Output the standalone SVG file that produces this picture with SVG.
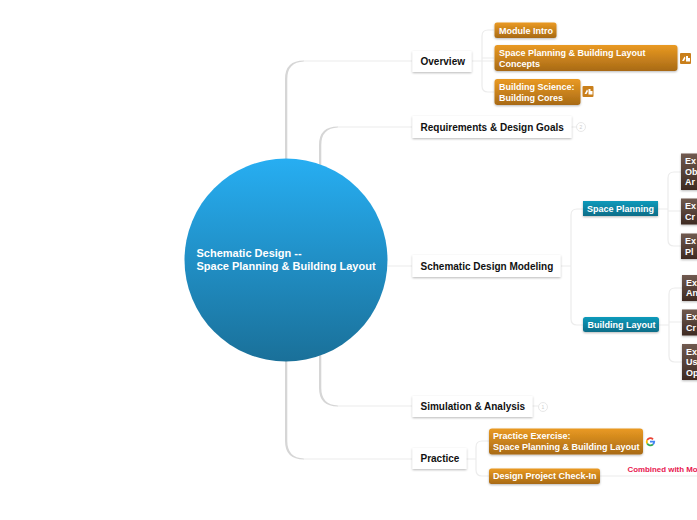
<svg xmlns="http://www.w3.org/2000/svg" width="697" height="520" viewBox="0 0 697 520">
<defs>
<linearGradient id="gc" x1="0" y1="0" x2="0" y2="1"><stop offset="0" stop-color="#27aef2"/><stop offset="1" stop-color="#1a7099"/></linearGradient>
<linearGradient id="go" x1="0" y1="0" x2="0" y2="1"><stop offset="0" stop-color="#ea9a22"/><stop offset="1" stop-color="#a86a16"/></linearGradient>
<linearGradient id="gt" x1="0" y1="0" x2="0" y2="1"><stop offset="0" stop-color="#0f9abb"/><stop offset="1" stop-color="#0f6d88"/></linearGradient>
<linearGradient id="gb" x1="0" y1="0" x2="0" y2="1"><stop offset="0" stop-color="#705a50"/><stop offset="1" stop-color="#3e2a22"/></linearGradient>
<filter id="sh" x="-20%" y="-30%" width="140%" height="170%"><feDropShadow dx="0" dy="1" stdDeviation="1.2" flood-color="#000" flood-opacity="0.28"/></filter>
</defs>
<style>
text{font-family:"Liberation Sans",Arial,sans-serif;font-weight:bold}
.w{fill:#fff;filter:url(#sh)}
.o{fill:url(#go);filter:url(#sh)}
.t{fill:url(#gt);filter:url(#sh)}
.b{fill:url(#gb);filter:url(#sh)}
.k{font-size:10px;fill:#111}
.l{font-size:9px;fill:#fff}
.c{fill:none;stroke:#ececec;stroke-width:1.2}
.m{fill:#d6d6d6}
.n{fill:#fff;stroke:#e8e8e8;stroke-width:1}
.nt{font-size:5px;fill:#ccc;font-weight:normal;text-anchor:middle}
.ic{fill:#c97f1b}
.ig{fill:#fff}
</style>
<g id="connectors">
<path class="m" d="M285 170V79Q285 60.500 304 60.500V61.500Q287.300 62 287.300 79V170Z"/><path class="c" d="M303 61H412"/>
<path class="m" d="M319 175V145Q319 126.500 338 126.500V127.500Q321.300 128 321.300 145V175Z"/><path class="c" d="M337 127H412"/>
<path class="c" d="M370 266H412"/>
<path class="m" d="M319 340V388Q319 406.500 338 406.500V405.500Q321.300 405 321.300 388V340Z"/><path class="c" d="M337 406H412"/>
<path class="m" d="M285 350V441Q285 459.500 304 459.500V458.500Q287.300 458 287.300 441V350Z"/><path class="c" d="M303 459H412"/>
<path class="c" d="M472 61H494M482 61V36Q482 30 488 30H494M482 58H494M482 61V86Q482 92 488 92H494"/>
<path class="c" d="M561 266H571M571 266V215Q571 209 577 209H583M571 266V319Q571 325 577 325H583"/>
<path class="c" d="M658 209H668M668 209V178Q668 172 674 172H681M668 211H681M668 209V240Q668 246 674 246H681"/>
<path class="c" d="M659 325H669M669 325V294Q669 288 675 288H682M669 322H682M669 325V356Q669 362 675 362H682"/>
<path class="c" d="M466 459H476M476 459V447Q476 441 482 441H489M476 459V470Q476 476 482 476H489"/>
<path class="c" d="M600 476H697"/>
<path class="c" d="M571 127H577M532 406H538"/>
</g>
<g id="center"><circle cx="286" cy="260" r="101.500" fill="url(#gc)"/>
<text x="196.500" y="257" font-size="11" fill="#fff">Schematic Design --</text>
<text x="196.500" y="270" font-size="11" fill="#fff">Space Planning &amp; Building Layout</text></g>
<g id="overview"><rect class="w" x="412.500" y="51" width="59" height="21"/><text class="k" x="420.500" y="65">Overview</text></g>
<g id="requirements"><rect class="w" x="412.500" y="116" width="159" height="22"/><text class="k" x="420.500" y="131">Requirements &amp; Design Goals</text>
<circle class="n" cx="581" cy="127" r="4.500"/><text class="nt" x="581" y="129">2</text></g>
<g id="modeling"><rect class="w" x="412.500" y="255" width="148" height="22"/><text class="k" x="420.500" y="270">Schematic Design Modeling</text></g>
<g id="simulation"><rect class="w" x="412.500" y="396" width="120" height="21"/><text class="k" x="420.500" y="410">Simulation &amp; Analysis</text>
<circle class="n" cx="543" cy="407" r="4.500"/><text class="nt" x="543" y="409">1</text></g>
<g id="practice"><rect class="w" x="412.500" y="448" width="54" height="21"/><text class="k" x="420.500" y="462">Practice</text></g>
<g id="module-intro"><rect class="o" x="494.500" y="22.500" width="62" height="15.500" rx="2.500"/><text class="l" x="499" y="33.500">Module Intro</text></g>
<g id="concepts"><rect class="o" x="494.500" y="45" width="183" height="26" rx="3"/><text class="l" x="499" y="56">Space Planning &amp; Building Layout</text><text class="l" x="499" y="67">Concepts</text>
<rect class="ic" x="680" y="53" width="11" height="11" rx="1"/><path class="ig" d="M682 61L684.500 56.500L685.500 58L684 61ZM686 56H688V58H690V61.500H686Z"/></g>
<g id="cores"><rect class="o" x="494.500" y="79" width="86" height="26" rx="3"/><text class="l" x="499" y="90">Building Science:</text><text class="l" x="499" y="100.500">Building Cores</text>
<rect class="ic" x="582.500" y="86" width="11" height="11" rx="1"/><path class="ig" d="M584.500 94L587 89.500L588 91L586.500 94ZM588.500 89H590.500V91H592.500V94.500H588.500Z"/></g>
<g id="space-planning"><rect class="t" x="583" y="201" width="75" height="15"/><text class="l" x="587" y="212">Space Planning</text></g>
<g id="building-layout"><rect class="t" x="583" y="317" width="76" height="15" rx="2.500"/><text class="l" x="587.500" y="328">Building Layout</text></g>
<g id="ex1"><rect class="b" x="681" y="153.500" width="20" height="36.500"/><text class="l" x="685" y="164">Ex</text><text class="l" x="685" y="174.500">Ob</text><text class="l" x="685" y="185">Ar</text></g>
<g id="ex2"><rect class="b" x="681" y="198.500" width="20" height="26"/><text class="l" x="685" y="209">Ex</text><text class="l" x="685" y="219.500">Cr</text></g>
<g id="ex3"><rect class="b" x="681" y="233.500" width="20" height="25.500"/><text class="l" x="685" y="244">Ex</text><text class="l" x="685" y="254.500">Pl</text></g>
<g id="ex4"><rect class="b" x="682" y="275" width="19" height="26"/><text class="l" x="686" y="285.500">Ex</text><text class="l" x="686" y="296">An</text></g>
<g id="ex5"><rect class="b" x="682" y="309.500" width="19" height="26"/><text class="l" x="686" y="320">Ex</text><text class="l" x="686" y="330.500">Cr</text></g>
<g id="ex6"><rect class="b" x="682" y="344" width="19" height="36"/><text class="l" x="686" y="354.500">Ex</text><text class="l" x="686" y="365">Us</text><text class="l" x="686" y="375.500">Op</text></g>
<g id="exercise"><rect class="o" x="489" y="428.500" width="154" height="26" rx="3"/><text class="l" x="493" y="439">Practice Exercise:</text><text class="l" x="493" y="450">Space Planning &amp; Building Layout</text>
<g fill="none" stroke-width="1.800"><path stroke="#ea4335" d="M653 439.300A3.700 3.700 0 0 0 647.200 440"/><path stroke="#fbbc05" d="M647.200 440A3.700 3.700 0 0 0 647.200 443.500"/><path stroke="#34a853" d="M647.200 443.500A3.700 3.700 0 0 0 653 444.400"/><path stroke="#4285f4" d="M653 444.400A3.700 3.700 0 0 0 654.200 441.700H650"/></g></g>
<g id="checkin"><rect class="o" x="489" y="468.500" width="111" height="15.500" rx="2.500"/><text class="l" x="493" y="479">Design Project Check-In</text>
<text x="627.500" y="471.500" font-size="7.900" fill="#e8174f">Combined with Mo</text></g>
</svg>
